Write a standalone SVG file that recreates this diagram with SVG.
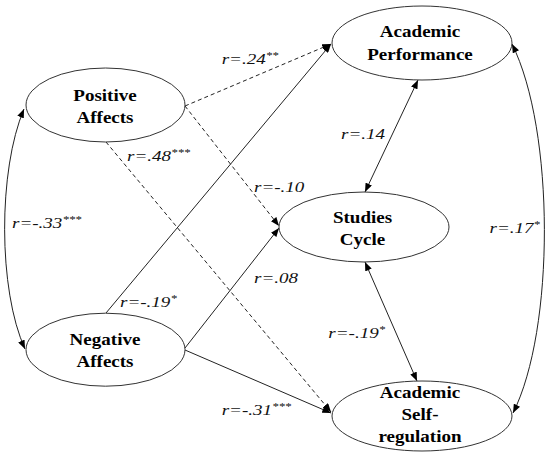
<svg xmlns="http://www.w3.org/2000/svg" width="551" height="460" viewBox="0 0 551 460">
<style>
.node ellipse{fill:#fff;stroke:#333;stroke-width:1}
.title{font-weight:bold;font-size:17px;fill:#000;text-anchor:middle}
.lbl{font-style:italic;font-size:15px;fill:#111}
.sup{font-size:10px}
.conn path{fill:none;stroke:#222;stroke-width:1}
.conn .dash{stroke-dasharray:4 3}
</style>
<defs>
<marker id="ah" viewBox="0 0 10 8" refX="10" refY="4" markerWidth="9" markerHeight="7" markerUnits="userSpaceOnUse" orient="auto-start-reverse">
<path d="M0,0 L10,4 L0,8 Z" fill="#000"/>
</marker>
</defs>
<rect width="551" height="460" fill="#fff"/>
<g id="connectors" class="conn">
<path class="dash" d="M185,106 L331,44" marker-end="url(#ah)"/>
<path class="dash" d="M185,106 L279,226" marker-end="url(#ah)"/>
<path class="dash" d="M106,142 L331,412" marker-end="url(#ah)"/>
<path d="M106,313 L331,44" marker-end="url(#ah)"/>
<path d="M185,348 L279,228" marker-end="url(#ah)"/>
<path d="M185,350 L331,413" marker-end="url(#ah)"/>
<path d="M418,80 L365,192" marker-start="url(#ah)" marker-end="url(#ah)"/>
<path d="M365,262 L417,381" marker-start="url(#ah)" marker-end="url(#ah)"/>
<path d="M24,109 C -2,170 -2,290 25,349" marker-start="url(#ah)" marker-end="url(#ah)"/>
<path d="M512,44 C 555,130 555,330 513,413" marker-start="url(#ah)" marker-end="url(#ah)"/>
</g>
<g font-family="Liberation Serif, serif">
<g id="labels">
<text class="lbl" transform="translate(221.7,64.3) scale(1.27,1)">r=.24<tspan class="sup" dy="-5">**</tspan></text>
<text class="lbl" transform="translate(127,161) scale(1.27,1)">r=.48<tspan class="sup" dy="-5">***</tspan></text>
<text class="lbl" transform="translate(341,139) scale(1.27,1)">r=.14</text>
<text class="lbl" transform="translate(254,191.7) scale(1.27,1)">r=-.10</text>
<text class="lbl" transform="translate(12,228.3) scale(1.27,1)">r=-.33<tspan class="sup" dy="-5">***</tspan></text>
<text class="lbl" transform="translate(489.5,233.3) scale(1.27,1)">r=.17<tspan class="sup" dy="-5">*</tspan></text>
<text class="lbl" transform="translate(254,283.3) scale(1.27,1)">r=.08</text>
<text class="lbl" transform="translate(120,306.7) scale(1.27,1)">r=-.19<tspan class="sup" dy="-5">*</tspan></text>
<text class="lbl" transform="translate(328.3,338.3) scale(1.27,1)">r=-.19<tspan class="sup" dy="-5">*</tspan></text>
<text class="lbl" transform="translate(221.7,415) scale(1.27,1)">r=-.31<tspan class="sup" dy="-5">***</tspan></text>
</g>
<g id="academic-performance" class="node">
<ellipse cx="422" cy="43" rx="90" ry="37"/>
<text class="title" transform="translate(420,36.7) scale(1.12,1)">Academic</text>
<text class="title" transform="translate(420,59.5) scale(1.12,1)">Performance</text>
</g>
<g id="positive-affects" class="node">
<ellipse cx="105.5" cy="105" rx="79.5" ry="37"/>
<text class="title" transform="translate(105,100.7) scale(1.12,1)">Positive</text>
<text class="title" transform="translate(105,123.3) scale(1.12,1)">Affects</text>
</g>
<g id="studies-cycle" class="node">
<ellipse cx="364" cy="227" rx="85" ry="35"/>
<text class="title" transform="translate(362.5,223.3) scale(1.12,1)">Studies</text>
<text class="title" transform="translate(362.5,245) scale(1.12,1)">Cycle</text>
</g>
<g id="negative-affects" class="node">
<ellipse cx="105.5" cy="349.7" rx="79.5" ry="36.5"/>
<text class="title" transform="translate(105,345) scale(1.12,1)">Negative</text>
<text class="title" transform="translate(105,366.7) scale(1.12,1)">Affects</text>
</g>
<g id="academic-self-regulation" class="node">
<ellipse cx="422" cy="416" rx="90" ry="35"/>
<text class="title" transform="translate(420,398.3) scale(1.12,1)">Academic</text>
<text class="title" transform="translate(420,420) scale(1.12,1)">Self-</text>
<text class="title" transform="translate(420,441.7) scale(1.12,1)">regulation</text>
</g>
</g>
</svg>
